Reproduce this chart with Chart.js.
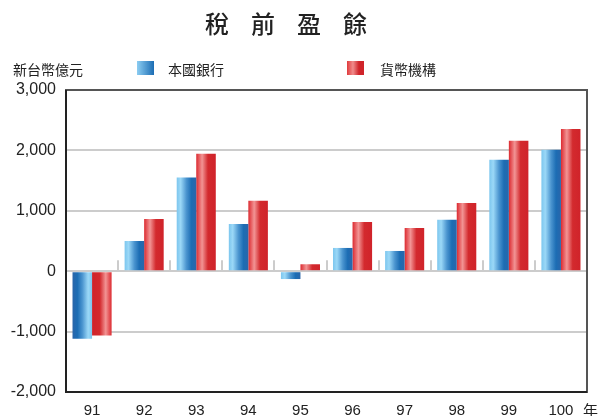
<!DOCTYPE html>
<html>
<head>
<meta charset="utf-8">
<script src="https://cdn.jsdelivr.net/npm/chart.js@4.4.1/dist/chart.umd.min.js"></script>
<style>
    html, body { margin: 0; padding: 0; background: #fff; }
    #wrap { position: relative; width: 599px; height: 416px; font-family: "Liberation Sans", Arial, "Noto Sans CJK TC", sans-serif; color: #222; }
    #chartBox { position: absolute; left: 0; top: 0; width: 599px; height: 416px; }
    .txt { position: absolute; white-space: nowrap; }
    #title { left: 205px; top: 5px; font-size: 24px; font-weight: 500; letter-spacing: 22px; font-family: "Noto Sans CJK TC", sans-serif; }
    #unit { left: 13px; top: 59px; font-size: 14px; font-family: "Noto Sans CJK TC", sans-serif; }
    .lg { top: 59px; font-size: 14px; font-family: "Noto Sans CJK TC", sans-serif; }
    .sw { position: absolute; width: 17px; height: 14px; top: 61px; }
    #year { left: 583px; top: 399px; font-size: 15px; font-family: "Noto Sans CJK TC", sans-serif; }
</style>
</head>
<body>
<div id="wrap">
    <div id="chartBox"><canvas id="pretaxChart" width="599" height="416"></canvas></div>
    <div class="txt" id="title">稅前盈餘</div>
    <div class="txt" id="unit">新台幣億元</div>
    <div class="sw" style="left:137px;background:linear-gradient(to right,#8ccdf2,#1c6db4);"></div>
    <div class="txt lg" style="left:168px;">本國銀行</div>
    <div class="sw" style="left:347px;background:linear-gradient(to right,#e03a3c,#f08c8c 35%,#d0242a 70%);"></div>
    <div class="txt lg" style="left:380px;">貨幣機構</div>
    <div class="txt" id="year">年</div>
</div>
<script>
    // 資料
    const years = ['91', '92', '93', '94', '95', '96', '97', '98', '99', '100'];
    const domesticBanks = [-1120, 500, 1550, 780, -130, 385, 335, 850, 1845, 2010];
    const monetaryInst = [-1065, 865, 1945, 1165, 115, 815, 715, 1130, 2160, 2355];
    const yTicks = [-2000, -1000, 0, 1000, 2000, 3000];

    const catPct = 0.75;

    // 每根柱子各自的漸層
    function barGradient(ctx, stops, side) {
        const chart = ctx.chart;
        const xs = chart.scales.x;
        if (!xs || !chart.chartArea) return stops[stops.length - 1][1];
        const catW = xs.width / years.length;
        const barW = catW * catPct / 2;
        const c = xs.getPixelForValue(ctx.dataIndex);
        const x0 = side === 0 ? c - barW : c;
        const x1 = x0 + barW;
        const v = ctx.raw;
        const g = v <= -1000
            ? chart.ctx.createLinearGradient(x1, 0, x0, 0)
            : chart.ctx.createLinearGradient(x0, 0, x1, 0);
        stops.forEach(s => g.addColorStop(s[0], s[1]));
        return g;
    }

    const blueStops = [[0, '#7cc6ee'], [0.2, '#9bd8f7'], [0.5, '#4a94cf'], [0.75, '#1c6db4'], [1, '#2a66aa']];
    const redStops = [[0, '#dc2a30'], [0.3, '#f29494'], [0.6, '#d32a2e'], [1, '#d0232a']];

    const framePlugin = {
        id: 'frame',
        beforeDatasetsDraw(chart) {
            const { ctx, chartArea: a, scales: { x, y } } = chart;
            const y0 = y.getPixelForValue(0);
            const catW = x.width / years.length;
            ctx.save();
            ctx.strokeStyle = '#cccccc';
            ctx.lineWidth = 2;
            for (let i = 1; i < years.length; i++) {
                const bx = Math.round(a.left + catW * i);
                ctx.beginPath();
                ctx.moveTo(bx, y0);
                ctx.lineTo(bx, y0 - 11);
                ctx.stroke();
            }
            ctx.restore();
        },
        afterDraw(chart) {
            const { ctx, chartArea: a } = chart;
            ctx.save();
            ctx.strokeStyle = '#555555';
            ctx.lineWidth = 2;
            ctx.strokeRect(a.left, a.top, a.right - a.left, a.bottom - a.top);
            ctx.strokeStyle = '#222222';
            ctx.beginPath();
            ctx.moveTo(a.left, a.top);
            ctx.lineTo(a.left, a.bottom);
            ctx.lineTo(a.right, a.bottom);
            ctx.stroke();
            ctx.restore();
        }
    };

    new Chart(document.getElementById('pretaxChart'), {
        type: 'bar',
        data: {
            labels: years,
            datasets: [{
                label: '本國銀行',
                data: domesticBanks,
                backgroundColor: ctx => barGradient(ctx, blueStops, 0),
                borderWidth: 0
            }, {
                label: '貨幣機構',
                data: monetaryInst,
                backgroundColor: ctx => barGradient(ctx, redStops, 1),
                borderWidth: 0
            }]
        },
        options: {
            responsive: false,
            animation: false,
            layout: { padding: { top: 90, right: 12, left: 0, bottom: 0 } },
            plugins: {
                legend: { display: false },
                title: { display: false },
                tooltip: { enabled: false }
            },
            datasets: { bar: { categoryPercentage: catPct, barPercentage: 1 } },
            scales: {
                x: {
                    grid: { display: false },
                    border: { display: false },
                    ticks: { color: '#222', font: { family: 'Liberation Sans', size: 15 }, padding: 2, maxRotation: 0 },
                    afterFit: s => { s.height = 24; }
                },
                y: {
                    min: -2000,
                    max: 3000,
                    afterBuildTicks: s => { s.ticks = yTicks.map(v => ({ value: v })); },
                    grid: { color: '#cccccc', lineWidth: 2, drawTicks: false },
                    border: { display: false },
                    ticks: {
                        color: '#222',
                        font: { family: 'Liberation Sans', size: 16 },
                        padding: 10,
                        callback: v => v.toLocaleString('en-US')
                    },
                    afterFit: s => { s.width = 66; }
                }
            }
        },
        plugins: [framePlugin]
    });
</script>
</body>
</html>
